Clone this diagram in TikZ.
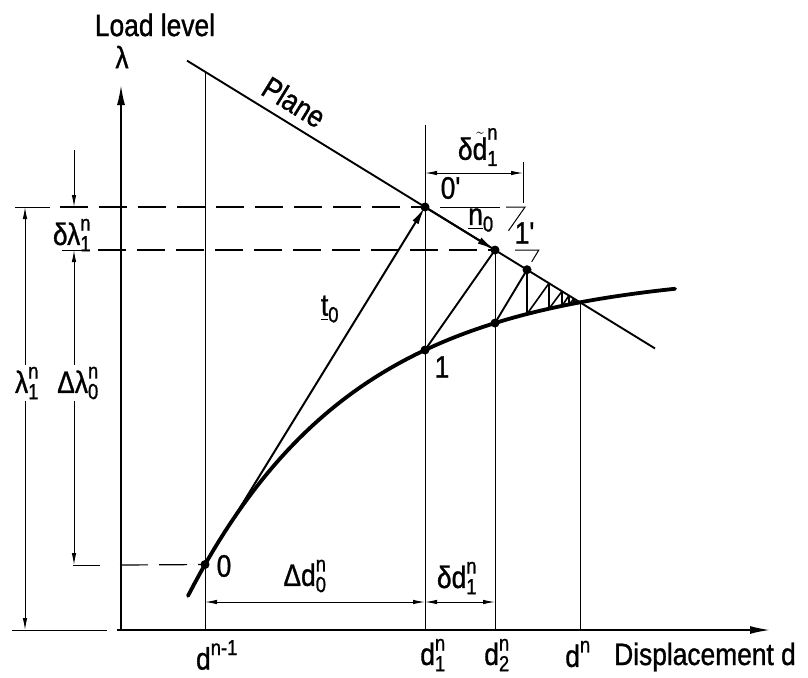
\documentclass[tikz,border=0pt]{standalone}
\usepackage{amsmath}
\usepackage{fontspec}
\setmainfont{Liberation Sans}[FakeStretch=0.85, FakeBold=1]
\usetikzlibrary{arrows.meta}
\begin{document}
\begin{tikzpicture}[x=1pt,y=-1pt,
  declare function={cv(\x)=271+79*exp(-0.00597*(\x-425)); pl(\x)=207+0.615*(\x-425);},
  ext/.style={line width=1pt},
  dashline/.style={line width=1.2pt, dash pattern=on 28pt off 11pt},
  dim/.style={line width=1pt, {Latex[length=12pt,width=4.5pt]}-{Latex[length=12pt,width=4.5pt]}},
  onearrow/.style={line width=1pt, -{Latex[length=12pt,width=4.5pt]}},
  axis/.style={line width=1.7pt, -{Latex[length=20pt,width=8pt]}},
  curve/.style={line width=3.8pt, line cap=round},
  plane/.style={line width=1.9pt},
  sec/.style={line width=1.9pt},
  vec/.style={line width=2pt, -{Latex[length=18pt,width=7pt]}},
  hatch/.style={line width=1.6pt},
  dot/.style={circle, fill=black, inner sep=0pt, minimum size=9pt},
  lbl/.style={font=\fontsize{31}{36}\selectfont, inner sep=1pt},
  wlbl/.style={lbl, fill=white, inner sep=2pt},
]
\useasboundingbox (0,0) rectangle (808,677);
% key points
\coordinate (O) at (205,{cv(205)});
\coordinate (P1) at (425,{cv(425)});
\coordinate (Op) at (425,{pl(425)});
\coordinate (P1p) at (495,{pl(495)});
\coordinate (C2) at (495,{cv(495)});
\coordinate (P2p) at (527,{pl(527)});
\coordinate (Conv) at (580,{pl(580)});
\coordinate (PlA) at (187,{pl(187)});
\coordinate (PlB) at (655,{pl(655)});
\coordinate (xs) at (117,630);
\coordinate (xtip) at (770,630);
\coordinate (ys) at (121,631);
\coordinate (ytip) at (121,85);
% axes
\draw[axis] (ys) -- (ytip);
\draw[axis] (xs) -- (xtip);
\draw[ext] (12,630) -- (107,630);
% vertical extension lines
\draw[ext] (205,{pl(205)}) -- (205,630);
\draw[ext] (425,125) -- (425,630);
\draw[ext] (P1p) -- (495,630);
\draw[ext] (Conv) -- (580,630);
\draw[ext] (523,162) -- (523,203);
% horizontal level lines
\draw[ext] (15,207) -- (50,207);
\draw[dashline] (60,207) -- (Op);
\draw[ext] (440,207) -- (500,207);
\draw[ext] (506,207) -- (525.1,207) -- (508.5,230.7);
\draw[ext] (62,{pl(495)}) -- (90,{pl(495)});
\draw[dashline] (98,{pl(495)}) -- (P1p);
\draw[ext] (515,{pl(495)}) -- (538.8,{pl(495)}) -- (531.7,261.8);
\draw[ext] (73,565) -- (100,565);
\draw[dashline] (120,565) -- (O);
% dimension lines
\draw[dim] (25,207) -- (25,630);
\node[wlbl] (lam1) at (27,383) {$\text{λ}^{\text{n}}_{\text{1}}$};
\draw[dim] (74,{pl(495)}) -- (74,565);
\node[wlbl] (dlam0) at (78,383) {$\text{Δλ}^{\text{n}}_{\text{0}}$};
\draw[onearrow] (74,150) -- (74,207);
\node[lbl] (slam1) at (72,235) {$\text{δλ}^{\text{n}}_{\text{1}}$};
\draw[dim] (425,173) -- (523,173);
\node[lbl] (sdt) at (478,147) {$\text{δ}{\tilde{\text{d}}}^{\text{n}}_{\text{1}}$};
\draw[dim] (205,602) -- (425,602);
\node[lbl] (Dd0) at (305,576) {$\text{Δd}^{\text{n}}_{\text{0}}$};
\draw[dim] (425,602) -- (495,602);
\node[lbl] (sd1) at (457,578) {$\text{δd}^{\text{n}}_{\text{1}}$};
% plane and curve
\draw[plane] (PlA) -- (PlB);
\draw[curve] plot[domain=188:675, samples=80] (\x,{cv(\x)});
% vectors and secants
\draw[vec] (O) -- (Op);
\draw[vec] (Op) -- (P1p);
\draw[sec] (P1) -- (P1p);
\draw[sec] (C2) -- (P2p);
\foreach \a/\b in {527/549, 549/562, 562/569, 569/574, 574/577}
  \draw[hatch] (\a,{cv(\a)}) -- (\b,{pl(\b)});
\foreach \a in {527,549,562,569,574,577}
  \draw[hatch] (\a,{pl(\a)}) -- (\a,{cv(\a)});
% dots
\node[dot] (dO) at (O) {};
\node[dot] (dP1) at (P1) {};
\node[dot] (dOp) at (Op) {};
\node[dot] (dP1p) at (P1p) {};
\node[dot] (dC2) at (C2) {};
\node[dot] (dP2p) at (P2p) {};
% labels
\node[lbl] (tLoad) at (155,25) {Load level};
\node[lbl] (tlam) at (122,57) {λ};
\node[lbl, rotate=-31.6] (tPlane) at (294,102) {Plane};
\node[lbl] (tt0) at (330,309) {$\underline{\text{t}}_{\text{0}}$};
\node[lbl] (tn0) at (481,220) {$\underline{\text{n}}_{\text{0}}$};
\node[lbl] (tOp) at (451,188) {0\textquotesingle};
\node[lbl] (t1p) at (525,233) {1\textquotesingle};
\node[lbl] (t1) at (442,367) {1};
\node[lbl] (t0) at (224,566) {0};
\node[lbl] (ldn1) at (217,655) {$\text{d}^{\text{n-1}}$};
\node[lbl] (ld1) at (433,655) {$\text{d}^{\text{n}}_{\text{1}}$};
\node[lbl] (ld2) at (497,655) {$\text{d}^{\text{n}}_{\text{2}}$};
\node[lbl] (ldn) at (578,654) {$\text{d}^{\text{n}}$};
\node[lbl] (ldisp) at (705,657) {Displacement d};
\end{tikzpicture}
\end{document}
